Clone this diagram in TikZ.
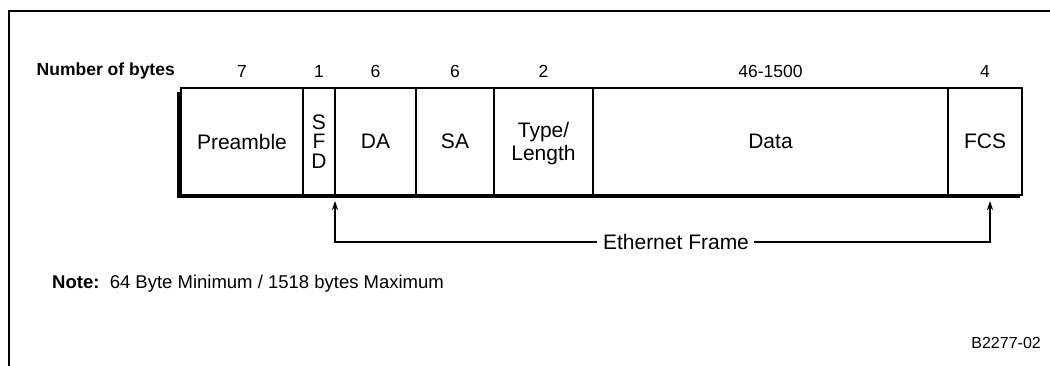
\documentclass[tikz,border=0pt]{standalone}
\usepackage{fontspec}
\setmainfont{Liberation Sans}
\usetikzlibrary{arrows.meta}
\begin{document}
\begin{tikzpicture}[x=1pt,y=-1pt,
  cell/.style={draw,line width=2pt,fill=white,anchor=north west,minimum height=107pt,inner sep=0pt,outer sep=0pt,font=\fontsize{21}{23}\selectfont,align=center,text depth=0pt},
  num/.style={font=\fontsize{17.5}{20}\selectfont,inner sep=0pt},
  conn/.style={line width=1.6pt,-{Stealth[length=9pt,width=6pt]}}]
\useasboundingbox (0,0) rectangle (1050,366);
% outer frame
\draw[line width=2pt] (9,366) -- (9,11) -- (1050,11);
% shadow
\fill (177,92) rectangle (1020,198.5);
% cells
\node[cell,minimum width=122pt] (pre) at (181,88) {Preamble};
\node[cell,minimum width=32pt,font=\fontsize{21}{19.5}\selectfont] (sfd) at (303,88) {S\\F\\D};
\node[cell,minimum width=81pt] (da) at (335,88) {DA};
\node[cell,minimum width=78pt] (sa) at (416,88) {SA};
\node[cell,minimum width=99pt] (tl) at (494,88) {Type/\\Length};
\node[cell,minimum width=355pt] (data) at (593,88) {Data};
\node[cell,minimum width=74pt] (fcs) at (948,88) {FCS};
% byte counts
\node[num,font=\bfseries\fontsize{17.5}{20}\selectfont,anchor=east] (nob) at (175,71) {Number of bytes};
\node[num] (n1) at ([yshift=17pt]pre.north) {7};
\node[num] (n2) at ([yshift=17pt]sfd.north) {1};
\node[num] (n3) at ([yshift=17pt]da.north) {6};
\node[num] (n4) at ([yshift=17pt]sa.north) {6};
\node[num] (n5) at ([yshift=17pt]tl.north) {2};
\node[num] (n6) at ([yshift=17pt]data.north) {46-1500};
\node[num] (n7) at ([yshift=17pt]fcs.north) {4};
% ethernet frame
\node[font=\fontsize{21}{23}\selectfont,inner sep=0pt] (ef) at (676,242) {Ethernet Frame};
\coordinate (lt) at ([yshift=-6pt]da.south west);
\coordinate (rt) at (990,201);
\draw[conn] ([xshift=-6pt]ef.west) -| (lt);
\draw[conn] ([xshift=5pt]ef.east) -| (rt);
% note
\node[anchor=west,inner sep=0pt,font=\fontsize{18.5}{21}\selectfont] (note) at (52,284) {\textbf{Note:}\ \ 64 Byte Minimum / 1518 bytes Maximum};
\node[anchor=east,inner sep=0pt,font=\fontsize{16}{18}\selectfont] (fig) at (1041,343) {B2277-02};
\end{tikzpicture}
\end{document}
